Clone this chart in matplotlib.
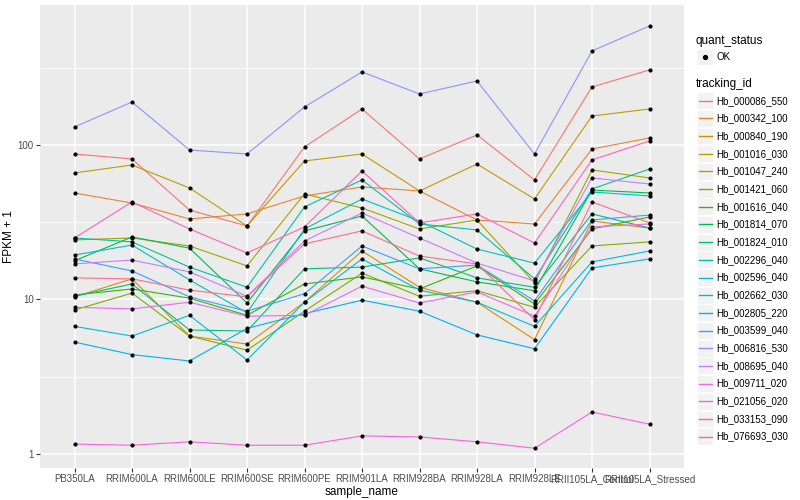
import matplotlib
matplotlib.use("Agg")
import matplotlib.pyplot as plt
from matplotlib.lines import Line2D
from matplotlib.patches import Rectangle

plt.rcParams['font.family'] = ['Liberation Sans', 'DejaVu Sans']

samples = ["PB350LA", "RRIM600LA", "RRIM600LE", "RRIM600SE", "RRIM600PE",
           "RRIM901LA", "RRIM928BA", "RRIM928LA", "RRIM928LE",
           "RRII105LA_Control", "RRII105LA_Stressed"]

tracking_ids = ["Hb_000086_550", "Hb_000342_100", "Hb_000840_190", "Hb_001016_030",
                "Hb_001047_240", "Hb_001421_060", "Hb_001616_040", "Hb_001814_070",
                "Hb_001824_010", "Hb_002296_040", "Hb_002596_040", "Hb_002662_030",
                "Hb_002805_220", "Hb_003599_040", "Hb_006816_530", "Hb_008695_040",
                "Hb_009711_020", "Hb_021056_020", "Hb_033153_090", "Hb_076693_030"]

colors = ["#F8766D", "#EA8331", "#D89000", "#C09B00", "#A3A500", "#7CAE00",
          "#39B600", "#00BB4E", "#00BF7D", "#00C1A3", "#00BFC4", "#00BAE0",
          "#00B0F6", "#35A2FF", "#9590FF", "#C77CFF", "#E76BF3", "#FA62DB",
          "#FF62BC", "#FF6C91"]

quant_status = ["OK"]

# FPKM values per tracking id, in sample order
hb_000086_550 = [86.4, 80.2, 36.9, 28.9, 96.1, 170.0, 80.2, 115.1, 58.4, 236.4, 305.0]
hb_000342_100 = [47.9, 41.1, 32.2, 34.8, 45.8, 52.5, 49.4, 31.7, 29.8, 93.2, 110.0]
hb_000840_190 = [9.4, 12.6, 4.8, 4.15, 8.6, 19.6, 11.0, 8.6, 4.5, 31.2, 28.0]
hb_001016_030 = [64.9, 73.2, 51.7, 28.9, 77.8, 86.4, 49.4, 74.3, 43.7, 153.0, 170.0]
hb_001047_240 = [23.3, 24.0, 21.2, 15.5, 47.2, 38.1, 27.6, 31.7, 11.8, 67.9, 60.2]
hb_001421_060 = [7.55, 10.0, 4.8, 3.7, 7.4, 13.8, 9.5, 10.4, 7.9, 21.2, 22.6]
hb_001616_040 = [9.7, 10.7, 9.2, 6.9, 11.6, 13.0, 10.7, 15.5, 8.35, 27.6, 33.2]
hb_001814_070 = [16.8, 24.4, 20.5, 8.5, 26.8, 33.7, 14.8, 12.0, 10.4, 50.1, 47.9]
hb_001824_010 = [9.5, 11.6, 5.35, 5.25, 14.8, 15.2, 17.6, 12.8, 11.0, 34.8, 28.0]
hb_002296_040 = [24.0, 22.6, 15.2, 11.0, 38.7, 58.4, 29.8, 27.2, 12.6, 50.9, 68.9]
hb_002596_040 = [18.4, 21.5, 12.4, 7.2, 27.6, 43.7, 31.2, 20.2, 16.2, 48.6, 45.8]
hb_002662_030 = [5.7, 4.8, 6.9, 3.06, 8.6, 17.3, 10.5, 8.6, 5.7, 16.5, 19.6]
hb_002805_220 = [4.3, 3.4, 3.0, 5.5, 7.1, 8.9, 7.4, 4.9, 3.8, 15.0, 17.3]
hb_003599_040 = [17.3, 14.3, 9.4, 7.4, 9.9, 21.2, 14.8, 15.7, 8.8, 31.7, 34.2]
hb_006816_530 = [129.8, 188.8, 91.8, 86.4, 175.2, 296.0, 212.8, 258.6, 86.4, 405.0, 588.0]
hb_008695_040 = [16.0, 17.0, 14.1, 9.5, 22.9, 35.3, 24.0, 16.2, 12.2, 60.2, 54.9]
hb_009711_020 = [7.9, 7.7, 8.6, 6.8, 6.9, 11.2, 8.5, 10.2, 6.8, 28.5, 29.8]
hb_021056_020 = [0.16, 0.14, 0.20, 0.14, 0.14, 0.31, 0.29, 0.20, 0.09, 0.87, 0.56]
hb_033153_090 = [24.0, 41.8, 27.6, 19.0, 28.5, 66.9, 30.3, 34.8, 22.2, 79.0, 105.1]
hb_076693_030 = [12.8, 12.6, 10.5, 9.4, 21.9, 26.8, 18.1, 16.0, 6.4, 41.8, 30.3]

series = [hb_000086_550, hb_000342_100, hb_000840_190, hb_001016_030, hb_001047_240,
          hb_001421_060, hb_001616_040, hb_001814_070, hb_001824_010, hb_002296_040,
          hb_002596_040, hb_002662_030, hb_002805_220, hb_003599_040, hb_006816_530,
          hb_008695_040, hb_009711_020, hb_021056_020, hb_033153_090, hb_076693_030]

W, H = 800, 500
fig = plt.figure(figsize=(8, 5), dpi=100)
ax = fig.add_axes([40 / W, 1 - 468 / H, (684 - 40) / W, (468 - 5) / H])
ax.set_facecolor("#EBEBEB")

x = list(range(len(samples)))
for vals, col in zip(series, colors):
    ax.plot(x, [v + 1 for v in vals], color=col, lw=0.8, zorder=2)
for vals in series:
    ax.scatter(x, [v + 1 for v in vals], s=9, color="black", zorder=3, linewidths=0)

ax.set_yscale("log")
ax.set_xlim(-0.6, len(samples) - 0.4)
ax.set_ylim(0.812, 805)
ax.set_yticks([1, 10, 100])
ax.set_yticklabels(["1", "10", "100"])
ax.set_yticks([3.1623, 31.623, 316.23], minor=True)
ax.yaxis.set_minor_formatter(plt.NullFormatter())
ax.set_xticks(x)
ax.set_xticklabels(samples)
ax.set_xticks([], minor=True)

ax.grid(which="major", color="white", lw=1.1, zorder=0)
ax.grid(which="minor", axis="y", color="white", lw=0.55, zorder=0)
ax.set_axisbelow(True)
for s in ax.spines.values():
    s.set_visible(False)
ax.tick_params(which="major", length=3, width=0.8, color="#333333",
               labelcolor="#4D4D4D", labelsize=7, pad=1.5)
ax.tick_params(which="minor", length=0)

ax.set_xlabel("sample_name", fontsize=8.5, color="black", labelpad=1)
ax.set_ylabel("FPKM + 1", fontsize=8.5, color="black", labelpad=2)

# Legends (ggplot style, drawn in figure pixel coordinates)
def fx(px):
    return px / W

def fy(py):
    return 1 - py / H

fig.text(fx(696), fy(41), "quant_status", fontsize=8.5, va="center", ha="left")
fig.add_artist(Rectangle((fx(697), fy(65)), 16 / W, 16 / H, transform=fig.transFigure,
                         facecolor="#F2F2F2", edgecolor="white", lw=0.5, zorder=1))
fig.add_artist(Line2D([fx(705)], [fy(57)], marker="o", markersize=2.8, color="black",
                      linestyle="none", transform=fig.transFigure, zorder=3))
fig.text(fx(716.5), fy(57), quant_status[0], fontsize=7, va="center", ha="left")

fig.text(fx(696), fy(84), "tracking_id", fontsize=8.5, va="center", ha="left")
step = 17.68
for i, (tid, col) in enumerate(zip(tracking_ids, colors)):
    cy = 100.7 + i * step
    fig.add_artist(Rectangle((fx(697), fy(cy + 8.4)), 16 / W, 16.8 / H,
                             transform=fig.transFigure, facecolor="#F2F2F2",
                             edgecolor="white", lw=0.5, zorder=1))
    fig.add_artist(Line2D([fx(698.5), fx(711.5)], [fy(cy), fy(cy)], color=col, lw=1.0,
                          transform=fig.transFigure, zorder=3))
    fig.text(fx(716.5), fy(cy), tid, fontsize=7, va="center", ha="left")

fig.savefig("out.png", dpi=100, facecolor="white")
